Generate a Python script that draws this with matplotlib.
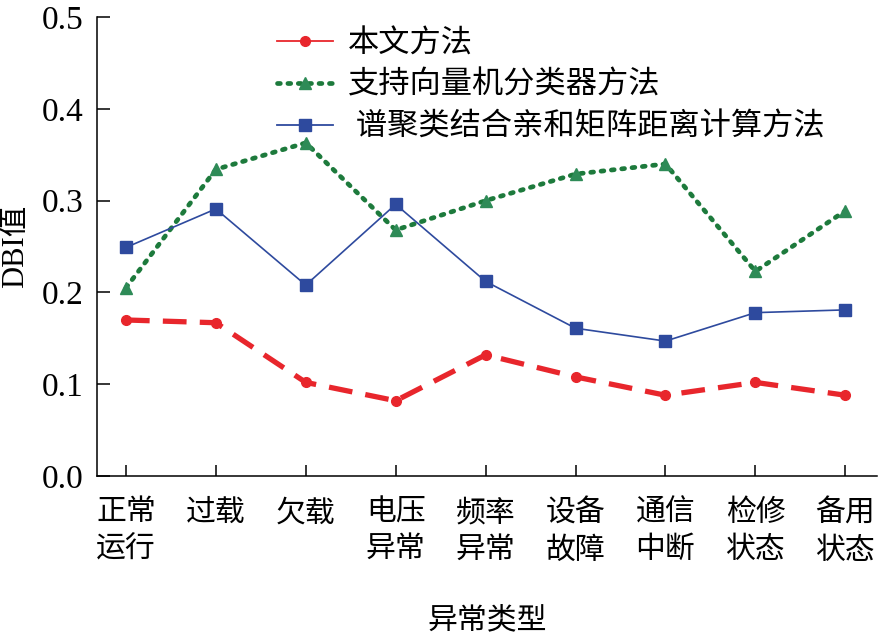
import matplotlib
matplotlib.use("Agg")
import matplotlib.pyplot as plt
from matplotlib.lines import Line2D

plt.rcParams['font.family'] = ['Liberation Serif', 'Noto Sans CJK SC']
plt.rcParams['axes.unicode_minus'] = False

categories = ["正常\n运行", "过载", "欠载", "电压\n异常", "频率\n异常", "设备\n故障", "通信\n中断", "检修\n状态", "备用\n状态"]
series_names = ["本文方法", "支持向量机分类器方法", " 谱聚类结合亲和矩阵距离计算方法"]
ours = [0.170, 0.167, 0.102, 0.082, 0.132, 0.108, 0.088, 0.102, 0.088]
svm = [0.205, 0.334, 0.363, 0.268, 0.300, 0.329, 0.340, 0.223, 0.289]
spectral = [0.249, 0.291, 0.208, 0.296, 0.212, 0.161, 0.147, 0.178, 0.181]
yticks = [0.0, 0.1, 0.2, 0.3, 0.4, 0.5]

RED = "#e8262c"
GREEN = "#1d7a3c"
GREEN_M = "#2e8b57"
BLUE = "#2e4a9e"

fig = plt.figure(figsize=(8.83, 6.33), dpi=100)
ax = fig.add_axes([0.110, 0.248, 0.883, 0.725])

x = list(range(len(categories)))
ax.plot(x, ours, color=RED, lw=3.8, dashes=(4.5, 2.5), marker='o', ms=7,
        mfc=RED, mec=RED, zorder=3)
ax.plot(x, svm, color=GREEN, lw=3.4, dashes=(0.6, 1.6), dash_capstyle='round',
        marker='^', ms=8, mfc=GREEN_M, mec=GREEN_M, zorder=2)
ax.plot(x, spectral, color=BLUE, lw=1.2, marker='s', ms=8, mfc=BLUE, mec=BLUE, zorder=4)

ax.set_xlim(-0.32, 8.35)
ax.set_ylim(0, 0.5)
ax.set_yticks(yticks)
ax.set_yticklabels([f"{v:.1f}" for v in yticks])
ax.set_xticks(x)
ax.set_xticklabels(categories, linespacing=1.45, fontsize=21.5)

for s in ['top', 'right']:
    ax.spines[s].set_visible(False)
for s in ['left', 'bottom']:
    ax.spines[s].set_linewidth(1.1)
ax.tick_params(axis='x', direction='in', length=8, width=1.1, pad=17)
ax.tick_params(axis='y', direction='in', length=9, width=1.1, labelsize=24, pad=10)

ax.set_xlabel("异常类型", fontsize=21.5, labelpad=30)
ax.set_ylabel("DBI值", fontsize=22, labelpad=8)

handles = [
    Line2D([], [], color=RED, lw=1.3, marker='o', ms=7),
    Line2D([], [], color=GREEN, lw=3.4, dashes=(0.6, 1.6), dash_capstyle='round',
           marker='^', ms=8, mfc=GREEN_M, mec=GREEN_M),
    Line2D([], [], color=BLUE, lw=1.3, marker='s', ms=8),
]
leg = ax.legend(handles, series_names, loc='upper left',
                bbox_to_anchor=(277 / 883, 1 - 30 / 633), bbox_transform=fig.transFigure,
                frameon=False, fontsize=22.5, handlelength=1.78, handletextpad=0.5,
                borderpad=0, borderaxespad=0, labelspacing=0.4)

fig.savefig("out.png", dpi=100)
